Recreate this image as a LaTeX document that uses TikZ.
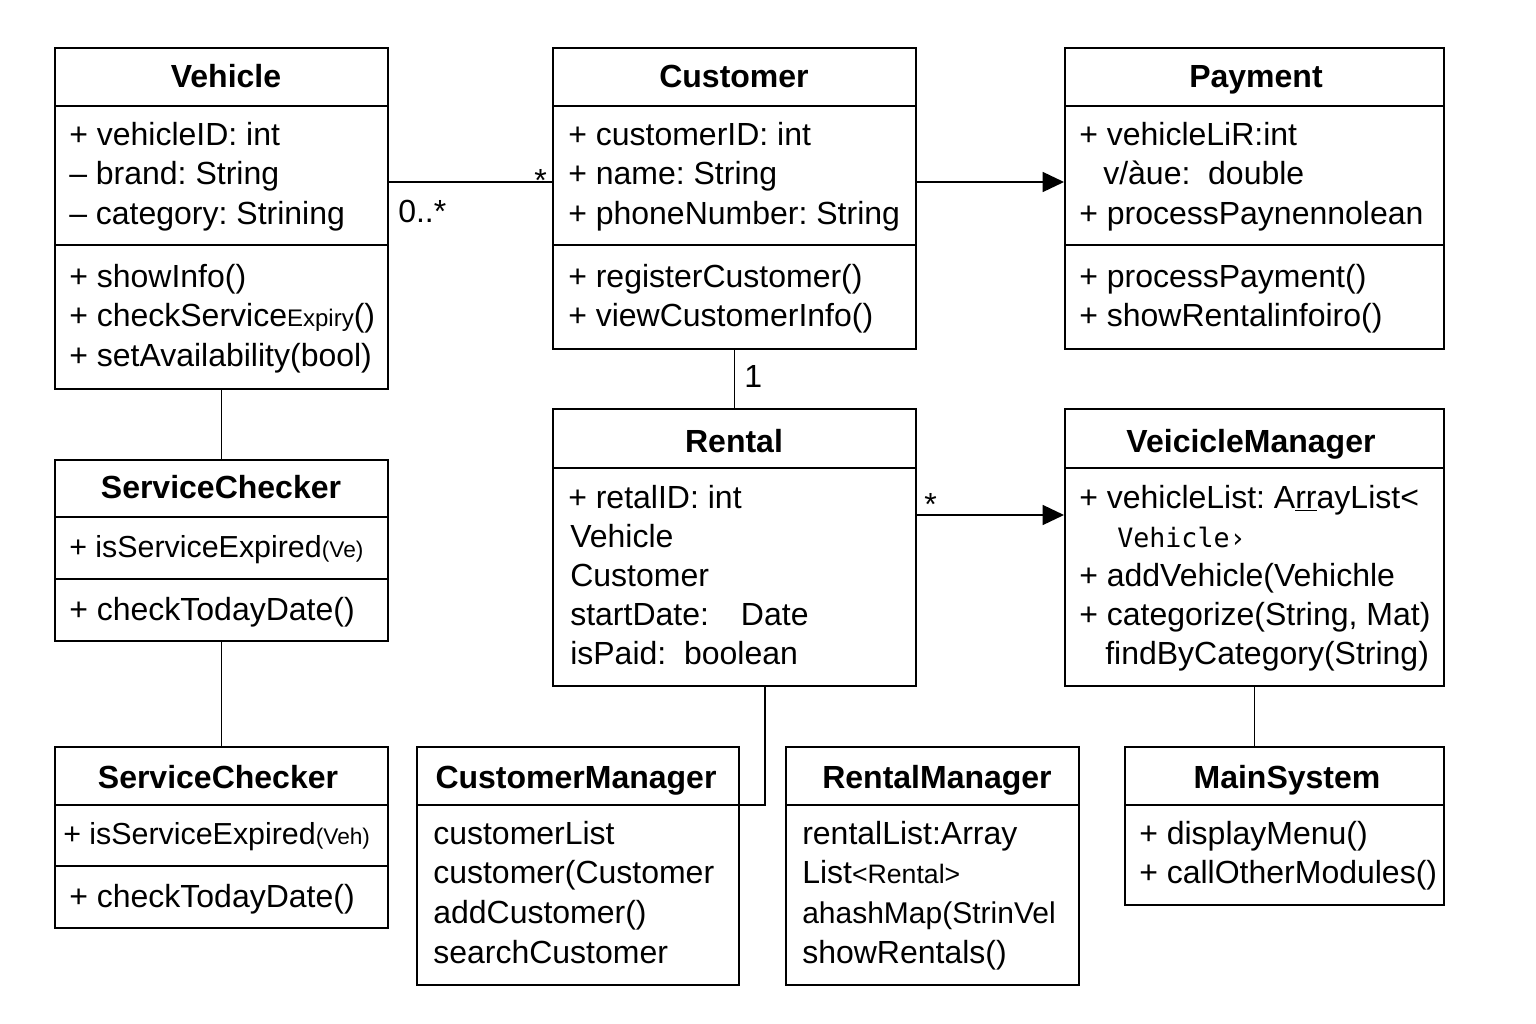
\documentclass[tikz,border=0pt]{standalone}
\usepackage{fontspec}
\setmainfont{Liberation Sans}
\newfontfamily\monofont{DejaVu Sans Mono}
\usetikzlibrary{arrows.meta,fit}
\frenchspacing

\tikzset{
  classbox/.style={draw, line width=1.5pt, inner sep=0pt},
  sepline/.style={line width=1.5pt},
  classname/.style={anchor=base, inner sep=0.75pt, font=\fontsize{24}{29}\selectfont\bfseries},
  member/.style={anchor=base west, inner sep=0.75pt, font=\fontsize{24}{29}\selectfont},
  assoc/.style={line width=1.1pt},
  navassoc/.style={assoc, -{Triangle[length=16pt,width=15pt]}},
}

\begin{document}
\begin{tikzpicture}[x=0.75pt,y=0.75pt,yscale=-1,xscale=1]
    \path[use as bounding box, fill=white] (0,0) rectangle (1536,1024);

    %Shape: Rectangle [Vehicle]
    \node [classbox, fit={(55,48) (388,389)}] (vehicle) {};
    \draw [sepline] (55,106) -- (388,106) ;
    \draw [sepline] (55,245) -- (388,245) ;
    %Shape: Rectangle [Customer]
    \node [classbox, fit={(553,48) (916,349)}] (customer) {};
    \draw [sepline] (553,106) -- (916,106) ;
    \draw [sepline] (553,245) -- (916,245) ;
    %Shape: Rectangle [Payment]
    \node [classbox, fit={(1065,48) (1444,349)}] (payment) {};
    \draw [sepline] (1065,106) -- (1444,106) ;
    \draw [sepline] (1065,245) -- (1444,245) ;
    %Shape: Rectangle [Rental]
    \node [classbox, fit={(553,409) (916,686)}] (rental) {};
    \draw [sepline] (553,468) -- (916,468) ;
    %Shape: Rectangle [VeicicleManager]
    \node [classbox, fit={(1065,409) (1444,686)}] (vmanager) {};
    \draw [sepline] (1065,468) -- (1444,468) ;
    %Shape: Rectangle [ServiceChecker]
    \node [classbox, fit={(55,460) (388,641)}] (checker) {};
    \draw [sepline] (55,517) -- (388,517) ;
    \draw [sepline] (55,579) -- (388,579) ;
    %Shape: Rectangle [ServiceChecker, second]
    \node [classbox, fit={(55,747) (388,928)}] (checkertwo) {};
    \draw [sepline] (55,805) -- (388,805) ;
    \draw [sepline] (55,866) -- (388,866) ;
    %Shape: Rectangle [CustomerManager]
    \node [classbox, fit={(417,747) (739,985)}] (cmanager) {};
    \draw [sepline] (417,805) -- (739,805) ;
    %Shape: Rectangle [RentalManager]
    \node [classbox, fit={(786,747) (1079,985)}] (rmanager) {};
    \draw [sepline] (786,805) -- (1079,805) ;
    %Shape: Rectangle [MainSystem]
    \node [classbox, fit={(1125,747) (1444,905)}] (mainsys) {};
    \draw [sepline] (1125,805) -- (1444,805) ;

    %Straight Lines [associations]
    \draw [assoc] (vehicle.east |- 0,182) -- (customer.west |- 0,182) ;
    \draw [navassoc] (customer.east |- 0,182) -- (payment.west |- 0,182) ;
    \draw [assoc] (customer.south) -- (rental.north) ;
    \draw [navassoc] (rental.east |- 0,515) -- (vmanager.west |- 0,515) ;
    \draw [assoc] (vehicle.south) -- (checker.north) ;
    \draw [assoc] (checker.south) -- (checkertwo.north) ;
    \draw [assoc] (rental.south -| 765,0) |- (cmanager.east |- 0,805) ;
    \draw [assoc] (vmanager.south) -- (mainsys.north -| vmanager.south) ;

    % Text Node
    \draw (397,222) node [member] (m-veh) {0..*};
    % Text Node
    \draw (533,191) node [member] (m-cust) {*};
    % Text Node
    \draw (743,387) node [member] (m-one) {1};
    % Text Node
    \draw (923,515) node [member] (m-rent) {*};

    % Text Node
    \draw (226,88) node [classname] (veh-name) {Vehicle};
    \draw (68,146) node [member] (veh-a1) {+ vehicleID: int};
    \draw (68,185) node [member] (veh-a2) {– brand: String};
    \draw (68,224) node [member] (veh-a3) {– category: Strining};
    \draw (68,287) node [member] (veh-m1) {+ showInfo()};
    \draw (68,326) node [member] (veh-m2) {+ checkService{\fontsize{18}{20}\selectfont Expiry}()};
    \draw (68,366) node [member] (veh-m3) {+ setAvailability(bool)};

    % Text Node
    \draw (734,88) node [classname] (cust-name) {Customer};
    \draw (567,146) node [member] (cust-a1) {+ customerID: int};
    \draw (567,185) node [member] (cust-a2) {+ name: String};
    \draw (567,224) node [member] (cust-a3) {+ phoneNumber: String};
    \draw (567,287) node [member] (cust-m1) {+ registerCustomer()};
    \draw (567,326) node [member] (cust-m2) {+ viewCustomerInfo()};

    % Text Node
    \draw (1256,88) node [classname] (pay-name) {Payment};
    \draw (1078,146) node [member] (pay-a1) {+ vehicleLiR:int};
    \draw (1102,185) node [member] (pay-a2) {v/àue:\ \ double};
    \draw (1078,224) node [member] (pay-a3) {+ processPaynennolean};
    \draw (1078,287) node [member] (pay-m1) {+ processPayment()};
    \draw (1078,326) node [member] (pay-m2) {+ showRentalinfoiro()};

    % Text Node
    \draw (734,452) node [classname] (rent-name) {Rental};
    \draw (567,508) node [member] (rent-a1) {+ retalID: int};
    \draw (569,547) node [member] (rent-a2) {Vehicle};
    \draw (569,586) node [member] (rent-a3) {Customer};
    \draw (569,625) node [member] (rent-a4) {startDate:\quad Date};
    \draw (569,664) node [member] (rent-a5) {isPaid:\ \ boolean};

    % Text Node
    \draw (1251,452) node [classname] (vm-name) {VeicicleManager};
    \draw (1078,508) node [member] (vm-a1) {+ vehicleList: A\underline{rr}ayList<};
    \draw (1116,547) node [member] (vm-a2) {\monofont\fontsize{20}{24}\selectfont Vehicle›};
    \draw (1078,586) node [member] (vm-a3) {+ addVehicle(Vehichle};
    \draw (1078,625) node [member] (vm-a4) {+ categorize(String, Mat)};
    \draw (1104,664) node [member] (vm-a5) {findByCategory(String)};

    % Text Node
    \draw (221,498) node [classname] (sc-name) {ServiceChecker};
    \draw (68,557) node [member, font=\fontsize{22.8}{28}\selectfont] (sc-a1) {+ isServiceExpired{\fontsize{17}{20}\selectfont (Ve)}};
    \draw (68,620) node [member] (sc-m1) {+ checkTodayDate()};

    % Text Node
    \draw (218,788) node [classname] (sctwo-name) {ServiceChecker};
    \draw (62,844) node [member, font=\fontsize{22.8}{28}\selectfont] (sctwo-a1) {+ isServiceExpired{\fontsize{17}{20}\selectfont (Veh)}};
    \draw (68,907) node [member] (sctwo-m1) {+ checkTodayDate()};

    % Text Node
    \draw (576,788) node [classname] (cm-name) {CustomerManager};
    \draw (432,844) node [member] (cm-a1) {customerList};
    \draw (432,883) node [member] (cm-a2) {customer(Customer};
    \draw (432,923) node [member] (cm-a3) {addCustomer()};
    \draw (432,963) node [member] (cm-a4) {searchCustomer};

    % Text Node
    \draw (937,788) node [classname] (rm-name) {RentalManager};
    \draw (801,844) node [member] (rm-a1) {rentalList:Array};
    \draw (801,883) node [member] (rm-a2) {List{\fontsize{20}{24}\selectfont <Rental>}};
    \draw (801,923) node [member, font=\fontsize{22.5}{28}\selectfont] (rm-a3) {ahashMap(StrinVel};
    \draw (801,963) node [member] (rm-a4) {showRentals()};

    % Text Node
    \draw (1287,788) node [classname] (ms-name) {MainSystem};
    \draw (1138,844) node [member] (ms-m1) {+ displayMenu()};
    \draw (1138,883) node [member] (ms-m2) {+ callOtherModules()};

\end{tikzpicture}
\end{document}
